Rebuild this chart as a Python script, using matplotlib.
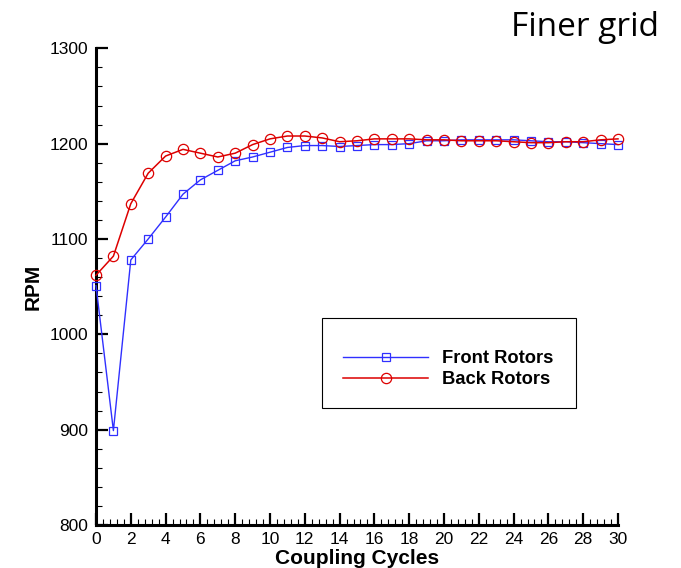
import matplotlib
matplotlib.use("Agg")
import matplotlib.pyplot as plt
from matplotlib.ticker import MultipleLocator
from matplotlib.patches import Rectangle

# Rotor speed history over coupling cycles
cycles = list(range(0, 31))
front_rotors = [1051, 899, 1078, 1100, 1123, 1147, 1162, 1172, 1182, 1186, 1191,
                1196, 1198, 1198, 1197, 1198, 1199, 1199, 1200, 1203, 1203,
                1204, 1204, 1204, 1204, 1203, 1202, 1202, 1201, 1200, 1199]
back_rotors = [1062, 1082, 1137, 1169, 1187, 1194, 1190, 1186, 1190, 1199, 1205,
               1208, 1208, 1206, 1202, 1203, 1205, 1205, 1205, 1204, 1204,
               1203, 1203, 1203, 1202, 1201, 1201, 1202, 1202, 1204, 1205]
series_labels = ["Front Rotors", "Back Rotors"]
x_label = "Coupling Cycles"
y_label = "RPM"
title_text = "Finer grid"

plt.rcParams["font.family"] = ["Liberation Sans", "DejaVu Sans"]

fig = plt.figure(figsize=(6.81, 5.68), dpi=100)
ax = fig.add_axes([96 / 681, 1 - 525 / 568, 522 / 681, (525 - 48.3) / 568])

blue = "#3030ff"
red = "#dd0000"
ax.plot(cycles, front_rotors, color=blue, lw=1.0, marker="s", ms=5.3,
        mfc="none", mec=blue, mew=0.9, clip_on=False, zorder=5,
        label=series_labels[0])
ax.plot(cycles, back_rotors, color=red, lw=1.1, marker="o", ms=7.4,
        mfc="none", mec=red, mew=0.9, clip_on=False, zorder=6,
        label=series_labels[1])

ax.set_xlim(0, 30)
ax.set_ylim(800, 1300)
ax.xaxis.set_major_locator(MultipleLocator(2))
ax.xaxis.set_minor_locator(MultipleLocator(0.4))
ax.yaxis.set_major_locator(MultipleLocator(100))
ax.yaxis.set_minor_locator(MultipleLocator(20))

for side in ("top", "right"):
    ax.spines[side].set_visible(False)
for side in ("left", "bottom"):
    ax.spines[side].set_linewidth(2.2)
    ax.spines[side].set_capstyle("projecting")

ax.tick_params(which="major", direction="in", length=8.6, width=1.6,
               labelsize=12.5, color="black")
ax.tick_params(which="minor", direction="in", length=4.3, width=0.8,
               color="black")
ax.tick_params(axis="y", which="major", pad=5.5)
ax.tick_params(axis="x", which="major", pad=5)

ax.set_xlabel(x_label, fontsize=15, fontweight="bold", labelpad=1.5)
ax.set_ylabel(y_label, fontsize=15, fontweight="bold", labelpad=5)

# Legend box with frameless legend inside
ax.add_patch(Rectangle((0.433, 0.2454), 0.4865, 0.1888, transform=ax.transAxes,
                       fill=False, ec="black", lw=0.8, zorder=7))
ax.legend(loc="center left", bbox_to_anchor=(0.474, 0.3272), frameon=False,
          prop={"weight": "bold", "size": 13.2}, handlelength=4.6,
          handletextpad=0.8, labelspacing=0.22, borderpad=0, borderaxespad=0,
          numpoints=1)

fig.text(511 / 681, 1 - 36 / 568, title_text, fontsize=24,
         family=["Open Sans", "DejaVu Sans"], ha="left", va="baseline")

fig.savefig("out.png", dpi=100)
